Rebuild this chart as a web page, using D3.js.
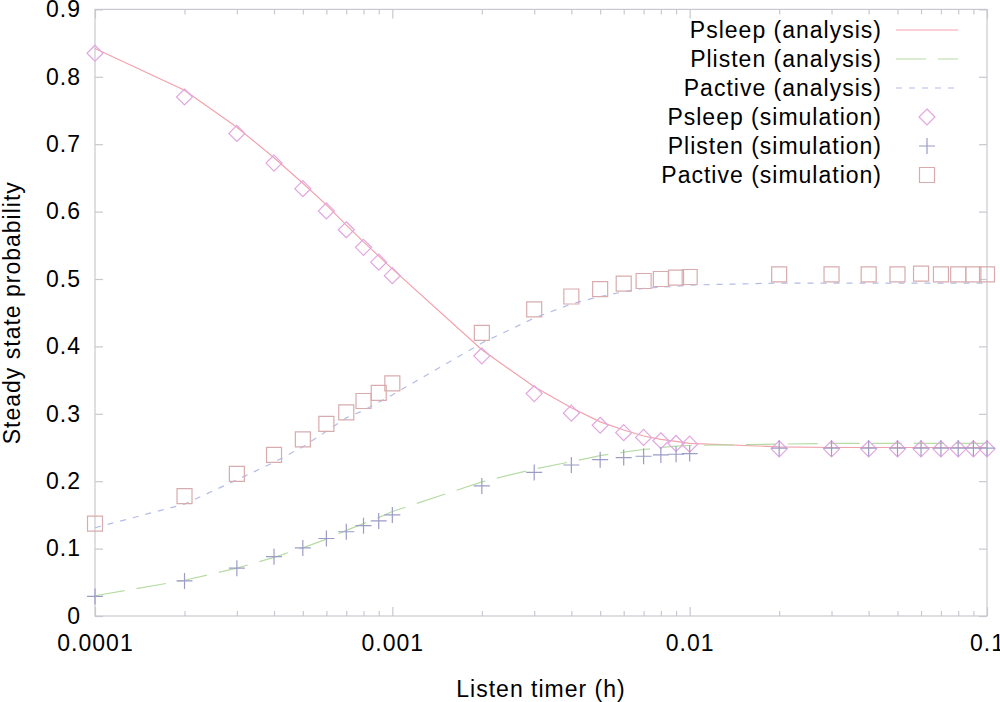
<!DOCTYPE html>
<html>
<head>
<meta charset="utf-8">
<script src="https://cdn.jsdelivr.net/npm/d3@7.9.0/dist/d3.min.js"></script>
<style>
  html, body { margin: 0; padding: 0; background: #fff; }
  svg text { font-family: "Liberation Sans", Arial, sans-serif; font-size: 23px; letter-spacing: 1px; fill: #000; }
</style>
</head>
<body>
<svg id="chart" width="1000" height="702"></svg>
<script>
// Listen timer values (h)
const timers = [0.0001, 0.0002, 0.0003, 0.0004, 0.0005, 0.0006, 0.0007, 0.0008, 0.0009,
                0.001, 0.002, 0.003, 0.004, 0.005, 0.006, 0.007, 0.008, 0.009,
                0.01, 0.02, 0.03, 0.04, 0.05, 0.06, 0.07, 0.08, 0.09, 0.1];

// Analysis curves
const sleepAnalysis = [0.842, 0.780, 0.725, 0.680, 0.642, 0.610, 0.580, 0.555, 0.534,
                       0.515, 0.395, 0.340, 0.309, 0.288, 0.276, 0.267, 0.262, 0.259,
                       0.256, 0.251, 0.250, 0.250, 0.250, 0.250, 0.250, 0.250, 0.250, 0.250];
const listenAnalysis = [0.030, 0.053, 0.071, 0.087, 0.101, 0.114, 0.127, 0.137, 0.146,
                        0.155, 0.199, 0.218, 0.229, 0.238, 0.243, 0.247, 0.250, 0.252,
                        0.253, 0.255, 0.256, 0.256, 0.256, 0.256, 0.256, 0.256, 0.256, 0.256];
const activeAnalysis = [0.131, 0.166, 0.202, 0.228, 0.251, 0.274, 0.294, 0.305, 0.317,
                        0.328, 0.405, 0.442, 0.463, 0.474, 0.481, 0.486, 0.488, 0.489,
                        0.491, 0.494, 0.494, 0.494, 0.494, 0.494, 0.494, 0.494, 0.494, 0.494];

// Simulation points
const sleepSim = [0.835, 0.770, 0.716, 0.672, 0.634, 0.601, 0.573, 0.547, 0.525,
                  0.505, 0.386, 0.330, 0.301, 0.283, 0.272, 0.265, 0.260, 0.256,
                  0.255, 0.248, 0.248, 0.248, 0.248, 0.248, 0.248, 0.248, 0.248, 0.248];
const listenSim = [0.029, 0.052, 0.071, 0.088, 0.101, 0.115, 0.125, 0.134, 0.141,
                   0.150, 0.193, 0.213, 0.224, 0.232, 0.235, 0.237, 0.239, 0.240,
                   0.241, 0.249, 0.249, 0.249, 0.249, 0.249, 0.249, 0.249, 0.249, 0.249];
const activeSim = [0.137, 0.178, 0.211, 0.239, 0.262, 0.285, 0.302, 0.319, 0.331,
                   0.345, 0.420, 0.455, 0.474, 0.485, 0.493, 0.497, 0.500, 0.502,
                   0.503, 0.507, 0.507, 0.507, 0.507, 0.508, 0.507, 0.507, 0.507, 0.507];

const xTickLabels = ["0.0001", "0.001", "0.01", "0.1"];
const yTicks = [0, 0.1, 0.2, 0.3, 0.4, 0.5, 0.6, 0.7, 0.8, 0.9];

const svg = d3.select("#chart");
const plotLeft = 95, plotRight = 987, plotTop = 9.4, plotBottom = 616;

const x = d3.scaleLog().domain([0.0001, 0.1]).range([plotLeft, plotRight]);
const y = d3.scaleLinear().domain([0, 0.9]).range([plotBottom, plotTop]);

const axisColor = "#c8c8d0";

// frame
svg.append("rect")
  .attr("x", plotLeft).attr("y", plotTop)
  .attr("width", plotRight - plotLeft).attr("height", plotBottom - plotTop)
  .attr("fill", "none").attr("stroke", axisColor).attr("stroke-width", 1.2);

// axes: majors and minors, ticks pointing inward
const majorX = xTickLabels.map(Number);
const minorX = x.ticks().filter(v => !majorX.some(m => Math.abs(m - v) < 1e-12));

function styleAxis(g) {
  g.select(".domain").remove();
  g.selectAll(".tick line").attr("stroke", axisColor).attr("stroke-width", 1.2);
  g.selectAll(".tick text").attr("fill", "#000").style("font-size", "23px")
    .style("font-family", "'Liberation Sans', Arial, sans-serif");
}

svg.append("g").attr("transform", `translate(0,${plotBottom})`)
  .call(d3.axisBottom(x).tickValues(majorX).tickSize(-9).tickPadding(19)
    .tickFormat((d, i) => xTickLabels[i]))
  .call(styleAxis);
svg.append("g").attr("transform", `translate(0,${plotBottom})`)
  .call(d3.axisBottom(x).tickValues(minorX).tickSize(-5).tickFormat(""))
  .call(styleAxis);
svg.append("g").attr("transform", `translate(0,${plotTop})`)
  .call(d3.axisTop(x).tickValues(majorX).tickSize(-9).tickFormat(""))
  .call(styleAxis);
svg.append("g").attr("transform", `translate(0,${plotTop})`)
  .call(d3.axisTop(x).tickValues(minorX).tickSize(-5).tickFormat(""))
  .call(styleAxis);

svg.append("g").attr("transform", `translate(${plotLeft},0)`)
  .call(d3.axisLeft(y).tickValues(yTicks).tickSize(-8).tickPadding(14)
    .tickFormat(d => d === 0 ? "0" : d3.format(".1f")(d)))
  .call(styleAxis);
svg.append("g").attr("transform", `translate(${plotRight},0)`)
  .call(d3.axisRight(y).tickValues(yTicks).tickSize(-8).tickFormat(""))
  .call(styleAxis);

// axis titles
svg.append("text")
  .attr("x", (plotLeft + plotRight) / 2).attr("y", 697)
  .attr("text-anchor", "middle")
  .text("Listen timer (h)");
svg.append("text")
  .attr("transform", `translate(20,${(plotTop + plotBottom) / 2}) rotate(-90)`)
  .attr("text-anchor", "middle")
  .text("Steady state probability");

// series definitions
const lines = [
  { name: "Psleep (analysis)", values: sleepAnalysis, color: "#f2a2ac", dash: null },
  { name: "Plisten (analysis)", values: listenAnalysis, color: "#b6dca4", dash: "30,12" },
  { name: "Pactive (analysis)", values: activeAnalysis, color: "#b4bce6", dash: "6,7" }
];
const points = [
  { name: "Psleep (simulation)", values: sleepSim, color: "#e2a6e0", shape: "diamond" },
  { name: "Plisten (simulation)", values: listenSim, color: "#9c9cc6", shape: "plus" },
  { name: "Pactive (simulation)", values: activeSim, color: "#d8acae", shape: "square" }
];

const lineGen = d3.line().x(d => x(d[0])).y(d => y(d[1]));

lines.forEach(s => {
  svg.append("path")
    .attr("d", lineGen(d3.zip(timers, s.values)))
    .attr("fill", "none")
    .attr("stroke", s.color)
    .attr("stroke-width", 1.2)
    .attr("stroke-dasharray", s.dash);
});

function marker(g, shape, cx, cy, color) {
  let d;
  if (shape === "diamond") d = `M${cx},${cy - 8}L${cx + 8},${cy}L${cx},${cy + 8}L${cx - 8},${cy}Z`;
  else if (shape === "plus") d = `M${cx - 8},${cy}H${cx + 8}M${cx},${cy - 8}V${cy + 8}`;
  else d = `M${cx - 7.5},${cy - 7.5}h15v15h-15Z`;
  g.append("path").attr("d", d)
    .attr("fill", "none").attr("stroke", color).attr("stroke-width", 1.2);
}

points.forEach(s => {
  const g = svg.append("g");
  timers.forEach((t, i) => marker(g, s.shape, x(t), y(s.values[i]), s.color));
});

// legend
const legendRows = [...lines, ...points];
legendRows.forEach((s, i) => {
  const cy = 30 + i * 29;
  svg.append("text")
    .attr("x", 882).attr("y", cy + 8)
    .attr("text-anchor", "end")
    .text(s.name);
  if (s.shape) {
    marker(svg, s.shape, 927, cy, s.color);
  } else {
    svg.append("line")
      .attr("x1", 896).attr("x2", 958).attr("y1", cy).attr("y2", cy)
      .attr("stroke", s.color).attr("stroke-width", 1.2)
      .attr("stroke-dasharray", s.dash);
  }
});
</script>
</body>
</html>
